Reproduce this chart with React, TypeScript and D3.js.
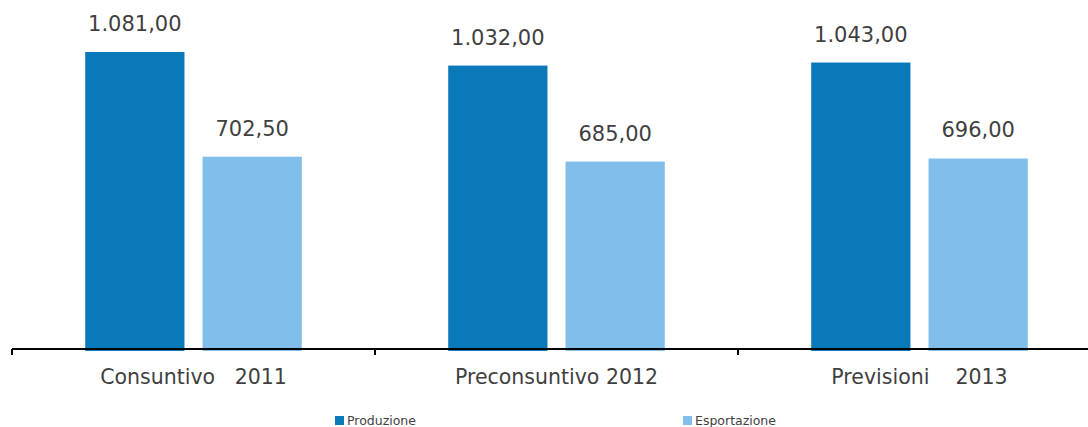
import React from "react";
import * as d3 from "d3";

const categories = ["Consuntivo   2011", "Preconsuntivo 2012", "Previsioni    2013"];
const seriesNames = ["Produzione", "Esportazione"];
const produzione = [1081.0, 1032.0, 1043.0];
const esportazione = [702.5, 685.0, 696.0];
const yMax = 1200;

const colors = ["#0A79BA", "#82BEEA"];
const textColor = "#3F3F3F";
const font = "'DejaVu Sans', Verdana, sans-serif";

const fmt = (v: number) => {
  const s = v.toFixed(2).replace(".", ",");
  const [i, d] = s.split(",");
  return i.replace(/\B(?=(\d{3})+(?!\d))/g, ".") + "," + d;
};

export default function App() {
  const W = 1088;
  const H = 427;
  const x0 = d3.scaleBand<string>().domain(categories).range([12, 1101]).paddingInner(0).paddingOuter(0);
  const x1 = d3
    .scaleBand<string>()
    .domain(seriesNames)
    .range([0, x0.bandwidth()])
    .paddingOuter(0.624)
    .paddingInner(0.154);
  const y = d3.scaleLinear().domain([0, yMax]).range([351, 19.1]);
  const axisY = 349;
  const series = [produzione, esportazione];

  return (
    <svg
      width={W}
      height={H}
      style={{ position: "absolute", left: 0, top: 0, display: "block" }}
      fontFamily={font}
    >
      <rect width={W} height={H} fill="#fff" />
      {categories.map((c, ci) =>
        seriesNames.map((s, si) => {
          const v = series[si][ci];
          const bx = (x0(c) as number) + (x1(s) as number);
          const bw = x1.bandwidth();
          return (
            <g key={c + s}>
              <rect x={bx} y={y(v)} width={bw} height={y(0) - y(v)} fill={colors[si]} />
              <text
                x={bx + bw / 2}
                y={y(v) - 21}
                textAnchor="middle"
                fontSize={21}
                fill={textColor}
              >
                {fmt(v)}
              </text>
            </g>
          );
        })
      )}
      <line x1={12} x2={1101} y1={axisY} y2={axisY} stroke="#000" strokeWidth={2} />
      {[...categories.map((c) => x0(c) as number), 1101].map((t, i) => (
        <line key={i} x1={t} x2={t} y1={axisY} y2={axisY + 6} stroke="#000" strokeWidth={2} />
      ))}
      {categories.map((c) => (
        <text
          key={c}
          x={(x0(c) as number) + x0.bandwidth() / 2}
          y={384}
          textAnchor="middle"
          fontSize={20.5}
          fill={textColor}
          style={{ whiteSpace: "pre" }}
          xmlSpace="preserve"
        >
          {c}
        </text>
      ))}
      {seriesNames.map((s, i) => {
        const lx = [335, 683][i];
        return (
          <g key={s}>
            <rect x={lx} y={416} width={9} height={9} fill={colors[i]} />
            <text x={lx + 12} y={424.5} fontSize={12.5} fill={textColor}>
              {s}
            </text>
          </g>
        );
      })}
    </svg>
  );
}
